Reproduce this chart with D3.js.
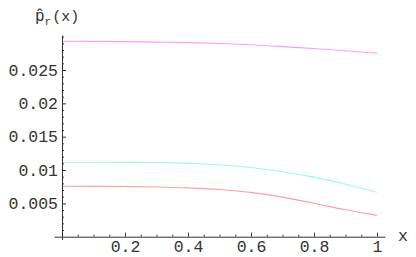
<!DOCTYPE html>
<html><head><meta charset="utf-8">
<script src="https://cdn.jsdelivr.net/npm/d3@7"></script>
<style>
html,body{margin:0;padding:0;background:#fff;}
svg{display:block;}
text{font-family:"Liberation Mono","Courier New",monospace;fill:#333;}
</style></head>
<body>
<svg id="c" width="416" height="257"></svg>
<script>
const xs = [0, 0.1, 0.2, 0.3, 0.4, 0.5, 0.6, 0.7, 0.8, 0.9, 1.0];
const magenta = [0.02931, 0.0293, 0.02925, 0.02918, 0.0291, 0.02898, 0.02878, 0.0285, 0.02823, 0.02789, 0.02751];
const green   = [0.01116, 0.01116, 0.01115, 0.01113, 0.01098, 0.0108, 0.01038, 0.00975, 0.00893, 0.00788, 0.00666];
const red     = [0.00756, 0.00755, 0.00752, 0.00746, 0.00733, 0.00708, 0.00665, 0.00594, 0.00502, 0.00403, 0.0032];
const seriesColors = ["#ff99ff", "#99ffcc", "#ff9f9f"];
const xMajor = [0.2, 0.4, 0.6, 0.8, 1];
const xMinor = [0.05,0.1,0.15,0.25,0.3,0.35,0.45,0.5,0.55,0.65,0.7,0.75,0.85,0.9,0.95];
const yMajor = [0.005, 0.01, 0.015, 0.02, 0.025];
const yMajorLabels = ["0.005", "0.01", "0.015", "0.02", "0.025"];
const yMinor = [0.001,0.002,0.003,0.004,0.006,0.007,0.008,0.009,0.011,0.012,0.013,0.014,0.016,0.017,0.018,0.019,0.021,0.022,0.023,0.024,0.026,0.027,0.028,0.029,0.03];

const svg = d3.select("#c");
const x = d3.scaleLinear().domain([-0.025, 1.025]).range([54.125, 384.875]);
const y = d3.scaleLinear().domain([-0.0004, 0.03025]).range([239.37, 35]);
const x0 = x(0), y0 = y(0);
const fs = 16.5;

// lines
const line = d3.line().x((d,i)=>x(xs[i])).y(d=>y(d)).curve(d3.curveMonotoneX);
[magenta, green, red].forEach((s,i)=>{
  svg.append("path").attr("d", line(s)).attr("fill","none")
    .attr("stroke", seriesColors[i]).attr("stroke-width",1.1);
});

// x axis
const gx = svg.append("g").attr("transform",`translate(0,${y0})`);
gx.call(d3.axisBottom(x).tickValues(xMajor).tickFormat(d=>d===1?"1":d3.format(".1f")(d))
  .tickSizeInner(-4).tickSizeOuter(0).tickPadding(3.5));
const gxm = svg.append("g").attr("transform",`translate(0,${y0})`);
gxm.call(d3.axisBottom(x).tickValues(xMinor).tickFormat("").tickSizeInner(-2).tickSizeOuter(0));
gxm.select(".domain").remove();

// y axis
const gy = svg.append("g").attr("transform",`translate(${x0},0)`);
gy.call(d3.axisLeft(y).tickValues(yMajor).tickFormat((d,i)=>yMajorLabels[i])
  .tickSizeInner(-4).tickSizeOuter(0).tickPadding(4));
const gym = svg.append("g").attr("transform",`translate(${x0},0)`);
gym.call(d3.axisLeft(y).tickValues(yMinor).tickFormat("").tickSizeInner(-2).tickSizeOuter(0));
gym.select(".domain").remove();

svg.selectAll(".domain, .tick line").attr("stroke","#333").attr("stroke-width",1);
svg.selectAll(".tick text").attr("font-size",fs).attr("font-family","Liberation Mono, Courier New, monospace").attr("fill","#333");

// axis labels
svg.append("text").attr("x",398).attr("y",241).attr("font-size",fs).text("x");
const t = svg.append("text").attr("x",35).attr("y",21).attr("font-size",16);
t.append("tspan").text("p\u0302");
t.append("tspan").attr("font-size",11).attr("dy",4).text("r");
t.append("tspan").attr("font-size",15).attr("dy",-4).attr("dx",1).text("(x)");
</script>
</body></html>
